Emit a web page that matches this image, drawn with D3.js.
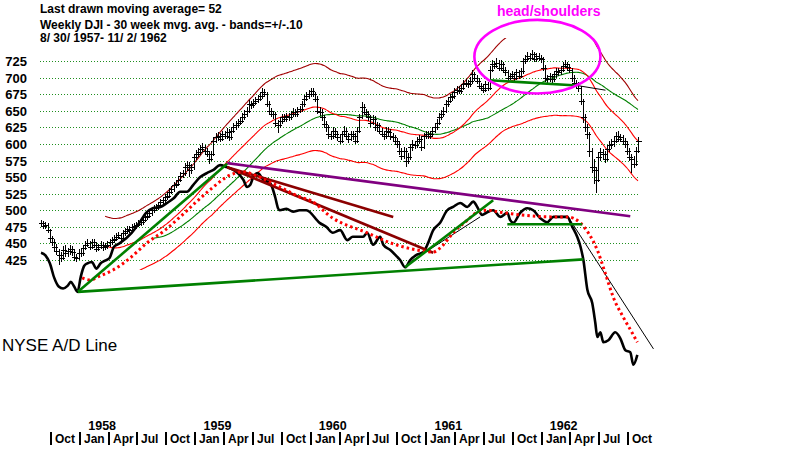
<!DOCTYPE html>
<html><head><meta charset="utf-8">
<script src="https://cdn.jsdelivr.net/npm/d3@7"></script>
<style>
body{margin:0;background:#fff}
svg{display:block}
text{font-family:Arial,"Liberation Sans",sans-serif}
</style>
</head><body>
<svg id="c" width="800" height="450"></svg>
<script>
// ---------------- DATA ----------------
const titleLines = ["Last drawn moving average= 52", "Weekly DJI - 30 week mvg. avg. - bands=+/-.10", "8/ 30/ 1957- 11/ 2/ 1962"];
const startDate = new Date(1957, 7, 30);
const endDate = new Date(1962, 10, 2);
const maShort = 30, maLong = 52, bandPct = 0.10;

const closes = [
481,476,478,470,458,452,445,438,432,428,
440,435,438,442,437,430,428,436,435,443,
448,450,445,452,448,442,445,448,444,446,
448,452,455,457,460,462,458,465,468,472,
470,474,476,478,480,482,486,490,492,496,
500,503,505,508,512,515,520,522,528,532,
538,540,546,552,556,565,568,560,565,580,
585,588,592,595,590,585,578,585,605,610,
612,608,615,612,618,610,620,625,628,632,
635,640,645,650,660,658,662,665,668,672,
678,675,660,650,645,645,632,628,635,640,
638,642,640,645,648,645,650,652,660,668,
672,675,680,675,668,650,648,640,630,625,
615,612,620,615,610,605,615,620,612,608,
615,612,605,620,640,655,648,645,640,632,
638,625,628,620,615,612,620,618,612,610,
605,600,590,582,590,575,580,595,600,598,
605,608,595,612,615,612,615,620,625,632,
640,645,650,660,665,670,672,678,682,680,
685,690,692,690,695,705,700,695,688,685,
682,690,685,712,720,718,722,715,720,712,
708,700,702,705,700,708,703,710,725,728,
732,730,735,728,732,730,728,715,700,698,
702,698,705,710,708,712,718,720,716,712,
700,692,690,685,665,640,625,615,590,565,
560,545,580,588,585,578,592,598,600,605,
612,608,610,605,600,590,580,578,570,590,
605];
const highs = [
486,484,483,481,472,461,456,449,442,437,
446,447,443,448,446,441,434,441,441,448,
454,456,454,457,456,452,449,453,452,451,
453,457,460,462,465,467,466,470,473,477,
476,479,481,483,485,487,491,495,497,501,
505,508,510,513,517,520,525,527,533,537,
543,546,551,557,561,571,574,572,570,585,
591,594,598,601,599,594,589,590,610,616,
618,617,620,619,624,622,626,631,634,638,
641,646,651,656,666,665,668,671,674,678,
685,683,679,664,654,650,648,636,640,645,
645,647,646,650,654,652,655,657,665,674,
678,681,685,684,679,672,655,652,644,635,
628,620,625,624,619,614,620,627,624,616,
620,619,616,625,645,663,660,652,650,644,
643,642,633,632,624,619,625,625,622,616,
614,609,604,594,596,594,586,600,606,605,
611,614,612,617,620,619,620,626,631,638,
646,651,656,666,671,676,678,684,688,687,
691,696,698,697,701,711,709,704,699,692,
689,695,694,717,727,725,729,726,726,724,
716,712,707,710,709,713,712,715,730,734,
738,737,741,739,737,737,734,731,719,704,
707,706,710,715,714,717,723,726,724,720,
715,704,697,694,688,668,645,630,618,594,
578,565,586,594,593,590,598,604,607,611,
618,620,615,614,609,604,594,585,582,596,
611];
const lows = [
474,471,472,465,452,446,439,432,418,422,
425,430,430,433,431,424,422,425,430,431,
440,444,440,441,443,437,438,441,439,440,
442,444,448,451,453,456,453,455,461,464,
465,466,470,472,474,476,478,482,486,488,
492,496,499,501,504,508,511,516,518,524,
528,534,536,542,548,552,560,550,555,561,
576,581,584,588,585,580,570,574,582,601,
605,603,604,607,608,605,606,616,621,624,
628,631,636,641,646,653,654,658,661,664,
668,670,655,645,640,638,626,616,624,630,
633,633,635,636,641,640,641,646,648,656,
664,668,671,670,663,645,642,635,625,618,
608,606,608,610,604,600,602,611,607,602,
604,606,600,602,617,637,643,639,634,626,
628,620,620,615,610,606,608,612,606,603,
599,594,584,576,578,565,570,576,590,592,
594,600,590,592,607,607,608,611,616,621,
628,636,641,646,656,661,665,668,674,675,
676,681,686,685,686,691,695,690,683,680,
677,678,680,682,708,713,714,710,711,707,
703,695,696,698,695,696,698,699,706,721,
724,725,726,723,724,725,722,710,694,692,
693,692,694,700,703,704,708,714,711,707,
694,686,684,679,658,632,618,608,580,556,
540,526,542,574,578,571,574,588,593,596,
601,603,603,598,594,584,574,556,563,566,
586];

// NYSE A/D line, expressed in the chart's vertical units (week index, level)
const adWeeks = [0,2,4,6,8,10,12,13.5,15,16.5,18,19.5,21,23,25,27,29,31,33,35.5,41,44.5,47.5,50.5,54,57,60,63,66,68.8,72,75,78,81,84,87,89,91.5,93.2,94.6,96,98,100.5,103.6,105.9,107.2,108,111,114,117,120,126,129,132,135.3,138.5,141,145.7,147.5,150.2,153.4,154.8,158,161,162.4,164.7,167,170,172.9,175,177.4,180.5,183.7,186.4,189.6,192.8,195.5,197.3,199.5,201.8,204.5,207.7,210.9,212.2,213.6,216.7,219.9,222.6,225.8,229,231.7,234.8,238,240.3,242.5,244,245.3,247.1,249.3,250.7,251.6,253,254.3,256.6,259.7,262,264.3,266.5,267.9,269.7];
const adValues = [436,432,420,398,385,382,386,392,385,377,400,416,420,422,412,420,424,428,445,450,466,481,496,503,505,511,518,528,528,538,550,556,561,568,565,561,556,546,535,538,550,556,546,541,520,503,500,502,498,500,500,481,475,466,470,455,460,460,466,448,460,448,440,430,425,414,425,433,437,450,470,481,500,505,511,505,513,505,493,497,500,490,496,485,481,496,503,500,488,482,490,490,490,475,460,445,425,380,360,330,309,316,301,304,316,307,289,286,267,282];

// moving average of the A/D line (red dotted)
const adMaWeeks = [18.6,22.2,26.7,32.6,40.3,48,56.1,62.9,69.7,76.5,85.5,91.4,96.8,101.4,108.1,117.2,121.7,132,147.5,157.9,170.1,177.4,180.5,186.4,192.8,197.3,201.8,207.7,216.7,231.7,238,243.9,247.5,251.6,255.2,258.8,263.3,267.4,269.7];
const adMaValues = [398,395,401,410,428,451,470,490,511,531,553,558,553,546,535,520,515,488,466,451,440,437,443,466,485,497,500,497,493,490,490,481,466,440,405,369,339,315,301];

// trend lines: [startWeek, startLevel, endWeek, endLevel]
const greenTrends = [[16.7,377,245.3,426],[16.7,377,84.2,570],[164.7,414,204.5,515],[210.9,479,244.8,479],[203,696,242.5,688]];
const purpleTrends = [[84.2,571,266.5,491]];
const maroonTrends = [[84.2,565,159.3,490],[84.2,565,177.4,436]];
const blackTrends = [[167,422,198.6,490],[238,492,277,291],[242.5,688,255.3,681]];
const headShoulders = {label:"head/shoulders", weeks:[196,253], levels:[787,676]};

const yTicks = [725,700,675,650,625,600,575,550,525,500,475,450,425];
const monthTicks = [[1957,9],[1958,0],[1958,3],[1958,6],[1958,9],[1959,0],[1959,3],[1959,6],[1959,9],[1960,0],[1960,3],[1960,6],[1960,9],[1961,0],[1961,3],[1961,6],[1961,9],[1962,0],[1962,3],[1962,6],[1962,9]];
const monthNames = {0:"Jan",3:"Apr",6:"Jul",9:"Oct"};
const yearLabels = [1958,1959,1960,1961,1962];
const adLabel = "NYSE A/D Line";

// ---------------- CHART ----------------
const svg = d3.select("#c");
const x = d3.scaleTime().domain([startDate, endDate]).range([41, 638]);
const y = d3.scaleLinear().domain([425, 725]).range([260, 61]);
const xw = w => x(new Date(startDate.getTime() + w * 7 * 864e5));

// title
titleLines.forEach((t, i) => {
  svg.append("text").attr("x", 40).attr("y", [13, 29, 42][i])
    .attr("font-size", 12).attr("font-weight", "bold").attr("fill", "#000").text(t);
});

// grid + y labels
yTicks.forEach(v => {
  svg.append("line").attr("x1", 40).attr("x2", 639).attr("y1", Math.round(y(v)) + 0.5).attr("y2", Math.round(y(v)) + 0.5)
    .attr("stroke", "#1f8f1f").attr("stroke-width", 1).attr("stroke-dasharray", "1,2");
  svg.append("text").attr("x", 27).attr("y", y(v) + 5).attr("text-anchor", "end")
    .attr("font-size", 13).attr("font-weight", "bold").text(v);
});

// moving averages + bands (clipped to the price panel)
svg.append("clipPath").attr("id", "pclip").append("rect")
  .attr("x", 0).attr("y", 38).attr("width", 800).attr("height", y(410) - 38);
function sma(arr, n) {
  const out = [];
  for (let i = n - 1; i < arr.length; i++) out.push([i, d3.mean(arr.slice(i - n + 1, i + 1))]);
  return out;
}
const ma30 = sma(closes, maShort), ma52 = sma(closes, maLong);
const lineW = d3.line().x(d => xw(d[0])).y(d => y(d[1])).curve(d3.curveMonotoneX);
const pg = svg.append("g").attr("clip-path", "url(#pclip)").attr("fill", "none");
pg.append("path").attr("d", lineW(ma30.map(d => [d[0], d[1] * (1 + bandPct)]))).attr("stroke", "#a00000").attr("stroke-width", 1.1);
pg.append("path").attr("d", lineW(ma30.map(d => [d[0], d[1] * (1 - bandPct)]))).attr("stroke", "#ff0000").attr("stroke-width", 1.1);
pg.append("path").attr("d", lineW(ma52)).attr("stroke", "#008000").attr("stroke-width", 1.1);
pg.append("path").attr("d", lineW(ma30)).attr("stroke", "#ff0000").attr("stroke-width", 1.1);

// weekly bars
const bars = svg.append("g").attr("stroke", "#000").attr("stroke-width", 1).attr("shape-rendering", "crispEdges");
closes.forEach((c, i) => {
  const xi = Math.round(xw(i)) + 0.5;
  bars.append("line").attr("x1", xi).attr("x2", xi).attr("y1", y(highs[i])).attr("y2", y(lows[i]));
  bars.append("line").attr("x1", xi - 2.5).attr("x2", xi + 3).attr("y1", Math.round(y(c)) + 0.5).attr("y2", Math.round(y(c)) + 0.5);
});

// A/D line
const adPts = adWeeks.map((w, i) => [w, adValues[i]]);
svg.append("path").attr("d", lineW(adPts)).attr("fill", "none").attr("stroke", "#000").attr("stroke-width", 2.6);

// trend lines
function seg(list, color, width) {
  list.forEach(s => {
    svg.append("line").attr("x1", xw(s[0])).attr("y1", y(s[1])).attr("x2", xw(s[2])).attr("y2", y(s[3]))
      .attr("stroke", color).attr("stroke-width", width);
  });
}
seg(maroonTrends, "#8b0000", 2.6);
seg(purpleTrends, "#800080", 2.6);
seg(blackTrends, "#000", 1);

// A/D moving average (red dotted)
const adMaPts = adMaWeeks.map((w, i) => [w, adMaValues[i]]);
svg.append("path").attr("d", lineW(adMaPts)).attr("fill", "none").attr("stroke", "#ff0000")
  .attr("stroke-width", 3).attr("stroke-dasharray", "2.5,3");

seg(greenTrends, "#008000", 2.6);

// head & shoulders ellipse
const ex0 = xw(headShoulders.weeks[0]), ex1 = xw(headShoulders.weeks[1]);
const ey0 = y(headShoulders.levels[0]), ey1 = y(headShoulders.levels[1]);
svg.append("ellipse").attr("cx", (ex0 + ex1) / 2).attr("cy", (ey0 + ey1) / 2)
  .attr("rx", (ex1 - ex0) / 2).attr("ry", (ey1 - ey0) / 2)
  .attr("fill", "none").attr("stroke", "#ff00ff").attr("stroke-width", 2.6);
svg.append("text").attr("x", 497).attr("y", 16).attr("font-size", 14).attr("font-weight", "bold")
  .attr("fill", "#ff00ff").text(headShoulders.label);

// A/D label
svg.append("text").attr("x", 2).attr("y", 351).attr("font-size", 17).attr("fill", "#000").text(adLabel);

// x axis labels
monthTicks.forEach(([yr, m]) => {
  const xt = Math.round(x(new Date(yr, m, 1)));
  svg.append("rect").attr("x", xt - 1).attr("y", 432).attr("width", 2).attr("height", 13).attr("fill", "#000");
  svg.append("text").attr("x", xt + 4).attr("y", 443).attr("font-size", 12).attr("font-weight", "bold").text(monthNames[m]);
});
yearLabels.forEach(yr => {
  svg.append("text").attr("x", x(new Date(yr, 0, 1)) + 22).attr("y", 430).attr("text-anchor", "middle")
    .attr("font-size", 12.5).attr("font-weight", "bold").text(yr);
});
</script>
</body></html>
